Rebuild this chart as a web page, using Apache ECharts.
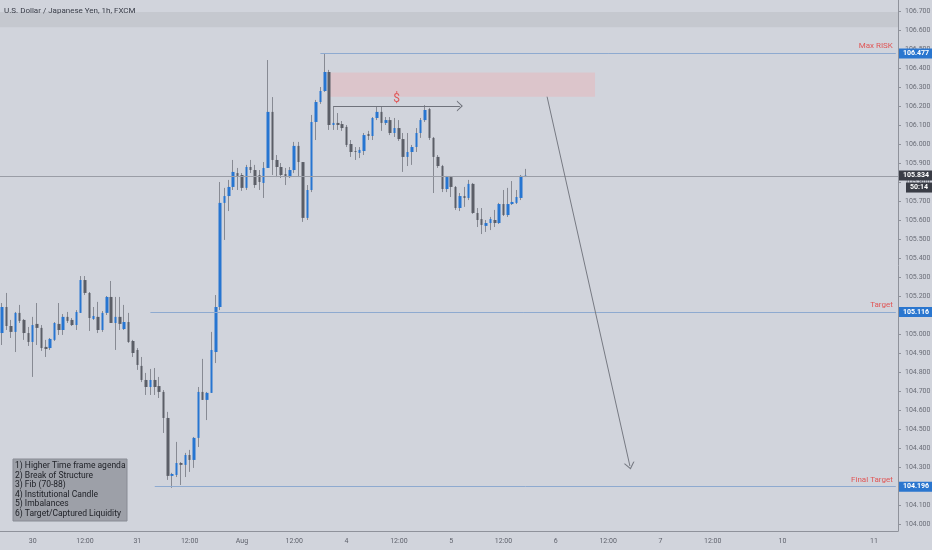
<!DOCTYPE html>
<html><head><meta charset="utf-8">
<script src="https://cdn.jsdelivr.net/npm/echarts@6/dist/echarts.min.js"></script>
<style>html,body{margin:0;padding:0;background:#d1d4dc}#c{width:932px;height:550px}</style>
</head><body><div id="c"></div>
<script>
// ---- data (hourly bars, bar 0 = Jul 30 00:00; first bar is index -7) ----
const firstBar = -7;
const slotCount = 206;
const tickBars  = [0, 12, 24, 36, 48, 60, 72, 84, 96, 108, 120, 132, 144, 156, 172, 193];
const tickTexts = ['30','12:00','31','12:00','Aug','12:00','4','12:00','5','12:00','6','12:00','7','12:00','10','11'];
const priceMin = 103.963, priceMax = 106.758, priceStep = 0.1;

const opens = [
105.005,105.142,105.042,105.011,105.111,105.074,105.005,
104.958,105.053,105.032,104.932,104.926,104.969,105.053,105.021,105.090,105.074,105.047,105.111,
105.284,105.216,105.079,105.090,105.021,105.111,105.195,105.058,105.090,105.026,105.063,104.963,
104.916,104.832,104.758,104.721,104.758,104.726,104.695,104.558,104.253,104.258,104.321,104.311,
104.363,104.337,104.453,104.695,104.653,104.690,104.905,105.142,105.690,105.726,105.774,105.847,
105.837,105.769,105.879,105.863,105.837,105.795,105.874,106.169,105.916,105.879,105.842,105.826,
105.863,105.990,105.905,105.611,105.758,106.116,106.221,106.279,106.379,106.100,106.111,106.105,
106.090,106.000,105.963,105.953,105.963,106.053,106.042,106.137,106.169,106.111,106.126,106.058,
106.084,106.026,105.932,105.958,105.984,106.058,106.126,106.184,106.032,105.932,105.884,105.763,
105.826,105.774,105.663,105.726,105.716,105.790,105.637,105.605,105.569,105.584,105.600,105.584,
105.684,105.626,105.684,105.690,105.716,105.832];
const closes = [
105.142,105.042,105.011,105.111,105.069,105.005,104.958,
105.047,105.032,104.926,104.921,104.974,105.058,105.021,105.090,105.069,105.047,105.116,105.284,
105.216,105.084,105.095,105.021,105.111,105.195,105.058,105.090,105.053,105.063,104.958,104.900,
104.837,104.758,104.721,104.758,104.721,104.695,104.558,104.253,104.263,104.321,104.311,104.363,
104.337,104.453,104.695,104.653,104.690,104.916,105.142,105.690,105.726,105.774,105.853,105.832,
105.769,105.879,105.863,105.784,105.800,105.874,106.169,105.916,105.879,105.837,105.826,105.863,
105.990,105.905,105.611,105.758,106.116,106.221,106.279,106.379,106.100,106.111,106.100,106.084,
105.995,105.958,105.958,105.969,106.047,106.042,106.137,106.169,106.111,106.126,106.058,106.084,
106.026,105.932,105.958,105.984,106.058,106.126,106.179,106.032,105.932,105.884,105.763,105.826,
105.774,105.663,105.726,105.716,105.790,105.637,105.600,105.574,105.584,105.605,105.584,105.684,
105.626,105.684,105.695,105.721,105.832,105.834];
const highs = [
105.163,105.216,105.074,105.116,105.153,105.079,105.037,
105.090,105.163,105.047,104.969,104.979,105.063,105.163,105.105,105.116,105.084,105.126,105.305,
105.305,105.221,105.142,105.169,105.121,105.200,105.279,105.195,105.195,105.153,105.111,104.969,
104.926,104.879,104.795,104.816,104.821,104.774,104.705,104.590,104.269,104.432,104.326,104.374,
104.390,104.458,104.721,104.869,104.695,105.011,105.205,105.800,105.769,105.811,105.916,105.874,
105.847,105.890,105.916,105.890,105.863,105.905,106.442,106.247,105.942,105.900,105.874,105.879,
106.011,106.011,105.905,105.784,106.153,106.232,106.300,106.477,106.390,106.200,106.163,106.121,
106.100,106.021,105.984,105.984,106.058,106.069,106.142,106.200,106.200,106.142,106.142,106.137,
106.126,106.058,106.058,105.995,106.084,106.137,106.205,106.190,106.037,105.942,105.890,105.832,
105.832,105.779,105.742,105.774,105.811,105.795,105.663,105.663,105.600,105.616,105.653,105.690,
105.758,105.769,105.805,105.758,105.837,105.869];
const lows = [
104.942,105.021,104.979,104.905,105.058,104.969,104.937,
104.774,104.942,104.911,104.879,104.916,104.963,104.995,104.995,105.058,105.042,105.021,105.111,
105.205,105.016,105.074,105.005,105.011,105.100,105.058,104.916,105.021,105.021,104.953,104.879,
104.811,104.747,104.679,104.679,104.679,104.663,104.479,104.232,104.190,104.247,104.205,104.247,
104.274,104.295,104.405,104.653,104.547,104.690,104.847,105.126,105.495,105.647,105.758,105.758,
105.753,105.758,105.847,105.769,105.758,105.716,105.874,105.837,105.826,105.821,105.784,105.821,
105.847,105.826,105.590,105.600,105.747,106.021,106.211,106.274,106.074,106.074,106.074,106.069,
105.984,105.932,105.916,105.926,105.942,106.021,106.021,106.126,106.069,106.100,106.047,106.037,
106.016,105.853,105.884,105.890,105.958,106.032,106.116,106.021,105.742,105.874,105.747,105.747,
105.721,105.653,105.647,105.669,105.705,105.632,105.563,105.526,105.537,105.547,105.563,105.579,
105.621,105.616,105.679,105.684,105.705,105.826];

// annotation levels
const maxRisk = 106.477, target = 105.116, finalTarget = 104.196, lastPrice = 105.834;
const countdown = '50:14';
const liquidity = 106.200;
const zoneTop = 106.377, zoneBottom = 106.249;
const bandTop = 106.695, bandBottom = 106.615;
const arrowFrom = [118, 106.249], arrowTo = [137, 104.305];
const noteLines = ['1) Higher Time frame agenda','2) Break of Structure','3) Fib (70-88)','4) Institutional Candle','5) Imbalances','6) Target/Captured Liquidity'];

// ---- build ----
const idx = i => i - firstBar;
const cats = [];
for (let k = 0; k < slotCount; k++) cats.push('s' + k);
const tickMap = {};
tickBars.forEach((b, j) => { tickMap[idx(b)] = tickTexts[j]; });

const wickData = opens.map((o, j) => [o, closes[j], lows[j], highs[j]]);
const bodyData = opens.map((o, j) => [o, closes[j], Math.min(o, closes[j]), Math.max(o, closes[j])]);

const UP = '#2675d1', DOWN = '#5b5e67', WICK = '#878a93', RED = '#e05656', LVL = '#8eaad0';
const FONT = 'Roboto, "Liberation Sans", sans-serif';
const chevron = 'path://M0,10 L5,0 L10,10 L8.8,10 L5,2.6 L1.2,10 Z';
const lastIdx = slotCount - 1;

const chart = echarts.init(document.getElementById('c'), null, {renderer: 'canvas'});
const option = {
  backgroundColor: '#d1d4dc',
  animation: false,
  textStyle: {fontFamily: FONT},
  title: {text: 'U.S. Dollar / Japanese Yen, 1h, FXCM', left: 4, top: 7, padding: 0,
    textStyle: {fontSize: 8, fontWeight: 'normal', color: '#363a45', fontFamily: FONT}},
  grid: {left: 0, right: 34, top: 0, bottom: 19, outerBoundsMode: 'none', containLabel: false},
  xAxis: {
    type: 'category', data: cats, boundaryGap: true,
    axisLine: {lineStyle: {color: '#8f929b', width: 1}},
    axisTick: {alignWithLabel: true, length: 3, lineStyle: {color: '#8f929b'},
      interval: (i) => tickMap[i] !== undefined},
    axisLabel: {interval: (i) => tickMap[i] !== undefined, formatter: (v, i) => tickMap[i] || '',
      color: '#5f626c', fontSize: 7, margin: 7},
    splitLine: {show: false}
  },
  yAxis: {
    type: 'value', position: 'right', min: priceMin, max: priceMax,
    splitNumber: 28, minInterval: priceStep, maxInterval: priceStep,
    axisLine: {show: true, lineStyle: {color: '#8f929b'}},
    axisTick: {show: true, length: 3, lineStyle: {color: '#8f929b'}},
    axisLabel: {color: '#6a6d77', fontSize: 7, margin: 7, showMinLabel: false, showMaxLabel: false,
      formatter: v => v.toFixed(3)},
    splitLine: {show: false}
  },
  series: [
    {
      type: 'candlestick', name: 'wick', data: wickData, barWidth: 1, z: 2,
      itemStyle: {color: WICK, color0: WICK, borderColor: WICK, borderColor0: WICK, borderWidth: 1},
      markArea: {
        silent: true,
        data: [
          [{yAxis: bandTop, itemStyle: {color: '#c5c8cf'}}, {yAxis: bandBottom}],
          [{coord: [idx(68), zoneTop], itemStyle: {color: '#dcc5cb'}}, {coord: [idx(129), zoneBottom]}]
        ]
      }
    },
    {
      type: 'candlestick', name: 'body', data: bodyData, barWidth: 3, z: 3,
      itemStyle: {color: UP, color0: DOWN, borderColor: UP, borderColor0: DOWN, borderWidth: 0},
      markLine: {
        silent: true, symbol: ['none', 'none'], z: 5,
        label: {show: false},
        data: [
          [{coord: [idx(66), maxRisk], lineStyle: {color: LVL, width: 1, type: 'solid'},
            label: {show: true, position: 'insideEndTop', formatter: 'Max RISK', color: RED, fontSize: 8, distance: 3}},
           {coord: [lastIdx, maxRisk]}],
          [{coord: [idx(27), target], lineStyle: {color: LVL, width: 1, type: 'solid'},
            label: {show: true, position: 'insideEndTop', formatter: 'Target', color: RED, fontSize: 8, distance: 3}},
           {coord: [lastIdx, target]}],
          [{coord: [idx(28), finalTarget], lineStyle: {color: LVL, width: 1, type: 'solid'},
            label: {show: true, position: 'insideEndTop', formatter: 'Final Target', color: RED, fontSize: 8, distance: 3}},
           {coord: [lastIdx, finalTarget]}],
          {yAxis: lastPrice, lineStyle: {color: '#9a9da6', width: 1, type: 'solid'}, label: {show: false}},
          [{coord: [idx(69), liquidity], lineStyle: {color: '#6f727b', width: 1, type: 'solid'},
            label: {show: true, position: 'insideMiddleTop', formatter: '$', color: RED, fontSize: 12, distance: 1}},
           {coord: [idx(98), liquidity], symbol: chevron, symbolSize: [11, 6]}],
          [{coord: [idx(arrowFrom[0]), arrowFrom[1]], lineStyle: {color: '#777a83', width: 1, type: 'solid'}},
           {coord: [idx(arrowTo[0]), arrowTo[1]], symbol: chevron, symbolSize: [11, 7]}]
        ]
      }
    }
  ]
};
chart.setOption(option);

// price boxes on the right axis, positioned through the y scale
const yPix = p => chart.convertToPixel({yAxisIndex: 0}, p);
const boxes = [];
function priceBox(price, text, color, dx, dy, w) {
  const y = yPix(price) + (dy || 0);
  boxes.push({type: 'rect', z: 100, shape: {x: 899 + (dx || 0), y: y - 5, width: w || 33, height: 10}, style: {fill: color}});
  boxes.push({type: 'text', z: 101, x: 903 + (dx || 0), y: y, style: {text: text, fill: '#ffffff', fontSize: 7, fontWeight: 'bold',
    fontFamily: FONT, textVerticalAlign: 'middle', verticalAlign: 'middle'}});
}
priceBox(maxRisk, maxRisk.toFixed(3), '#2a76cf');
priceBox(target, target.toFixed(3), '#2a76cf');
priceBox(finalTarget, finalTarget.toFixed(3), '#2a76cf');
priceBox(lastPrice, lastPrice.toFixed(3), '#3a3d46');
priceBox(lastPrice, countdown, '#3a3d46', 7, 12, 26);

// notes box
const noteEls = [{type: 'rect', z: 50, shape: {x: 13, y: 459, width: 114, height: 62},
  style: {fill: '#9da0a8', stroke: '#888b94', lineWidth: 1}}];
noteLines.forEach((t, j) => noteEls.push({type: 'text', z: 51, x: 15, y: 466 + j * 9.5,
  style: {text: t, fill: '#1d1f25', fontSize: 8.5, verticalAlign: 'middle', textVerticalAlign: 'middle', fontFamily: FONT}}));

chart.setOption({graphic: boxes.concat(noteEls)});
</script>
</body></html>
